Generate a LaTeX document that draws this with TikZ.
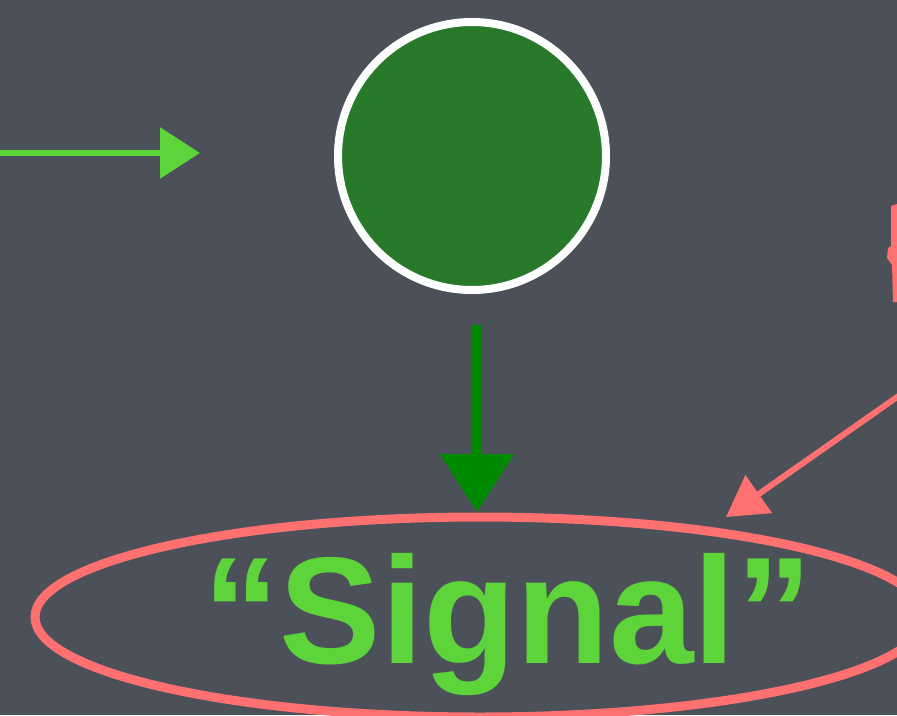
\documentclass[tikz,border=0pt]{standalone}
\usepackage{fontspec}
\setmainfont{Liberation Sans}
\usetikzlibrary{arrows.meta,shapes.geometric}
\definecolor{board}{RGB}{76,81,89}
\definecolor{chalkgreen}{RGB}{92,212,58}
\definecolor{darkgreen}{RGB}{0,138,0}
\definecolor{circgreen}{RGB}{40,122,42}
\definecolor{salmon}{RGB}{255,112,112}
\tikzset{
  chalkline/.style={line width=6pt, line cap=round},
}
\begin{document}
\begin{tikzpicture}[x=1pt,y=-1pt]
\useasboundingbox (0,0) rectangle (897,715);
\fill[board] (0,0) rectangle (897,715);
\begin{scope}
\clip (0,0) rectangle (897,715);
% left green arrow
\coordinate (la) at (-5,153);
\coordinate (lb) at (200,153);
\draw[chalkline, chalkgreen, -{Triangle[length=40pt,width=50pt]}] (la) -- (lb);
% circle
\node[circle, draw=white, line width=8pt, fill=circgreen, minimum size=268pt, inner sep=0pt] (c) at (472,156) {};
% dark green arrow
\coordinate (da) at (477,325);
\coordinate (db) at (477,512);
\draw[line width=10pt, darkgreen, -{Triangle[length=58pt,width=72pt]}] (da) -- (db);
% salmon arrow
\coordinate (sa) at (900,395);
\coordinate (sb) at (726,517);
\draw[chalkline, salmon, -{Triangle[length=40pt,width=45pt]}] (sa) -- (sb);
% ellipse
\node[ellipse, draw=salmon, line width=9pt, minimum width=890pt, minimum height=200pt, inner sep=0pt] (el) at (480,617) {};
% text
\node[text=chalkgreen, font=\bfseries\fontsize{152}{152}\selectfont, inner sep=0pt] (t) at (508,625) {“Signal”};
% right partial shape
\fill[salmon] (891,206) -- (897,204) -- (897,302) -- (893,302) -- (892,265) -- (887,258) -- (888,248) -- (891,246) -- cycle;
\end{scope}
\end{tikzpicture}
\end{document}
